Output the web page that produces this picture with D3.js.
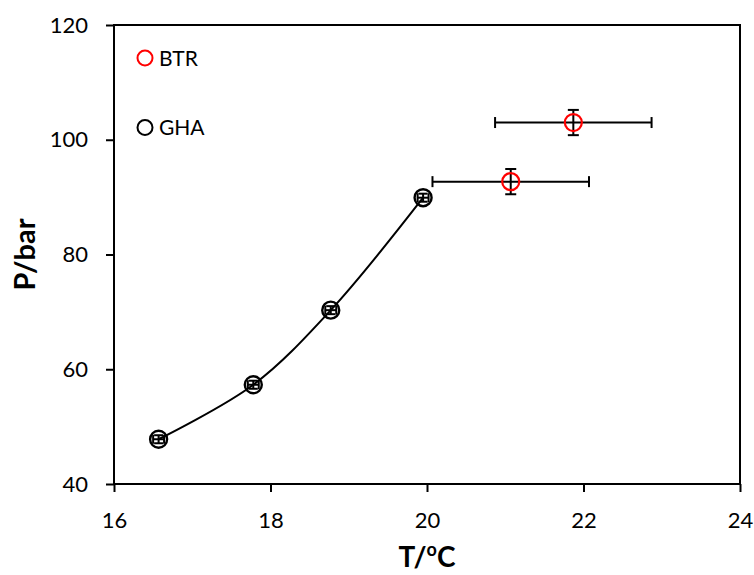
<!DOCTYPE html>
<html>
<head>
<meta charset="utf-8">
<script src="https://cdn.jsdelivr.net/npm/d3@7/dist/d3.min.js"></script>
<style>
  html, body { margin: 0; padding: 0; background: #fff; }
  svg { display: block; }
  text { font-family: Lato, "Open Sans", sans-serif; fill: #000; }
</style>
</head>
<body>
<svg id="chart" width="754" height="575"></svg>
<script>
// ---- data ----
const xTicks = [16, 18, 20, 22, 24];
const yTicks = [40, 60, 80, 100, 120];
const ghaT = [16.57, 17.78, 18.77, 19.95];
const ghaP = [47.8, 57.3, 70.3, 89.9];
const ghaTErr = [0.07, 0.07, 0.07, 0.07];
const ghaPErr = [0.7, 0.7, 0.7, 0.7];
const btrT = [21.07, 21.87];
const btrP = [92.7, 103.0];
const btrTErr = [1.0, 1.0];
const btrPErr = [2.2, 2.2];
const legendNames = ["BTR", "GHA"];
const legendColors = ["#ff0000", "#000000"];

// ---- layout ----
const svg = d3.select("#chart");
const L = 114, R = 740, T = 25, B = 484;
const x = d3.scaleLinear().domain([16, 24]).range([L, R]);
const y = d3.scaleLinear().domain([40, 120]).range([B, T]);

// frame
svg.append("rect").attr("x", L).attr("y", T).attr("width", R - L).attr("height", B - T)
  .attr("fill", "none").attr("stroke", "#000").attr("stroke-width", 2);

// axes
const xAxis = svg.append("g").attr("transform", `translate(0,${B})`)
  .call(d3.axisBottom(x).tickValues(xTicks).tickSize(8).tickPadding(20).tickFormat(d3.format("d")));
const yAxis = svg.append("g").attr("transform", `translate(${L},0)`)
  .call(d3.axisLeft(y).tickValues(yTicks).tickSize(8).tickPadding(18).tickFormat(d3.format("d")));
[xAxis, yAxis].forEach(g => {
  g.select(".domain").remove();
  g.selectAll(".tick line").attr("stroke", "#000").attr("stroke-width", 2);
  g.selectAll(".tick text").style("font-family", "Lato, sans-serif").style("font-size", "22px").attr("fill", "#000");
});
xAxis.selectAll(".tick text").attr("dy", "0.71em");

// axis titles
const xt = svg.append("text").attr("x", (L + R) / 2).attr("y", 567)
  .attr("text-anchor", "middle").style("font-size", "28px").style("font-weight", "bold");
xt.append("tspan").text("T/");
xt.append("tspan").text("o").style("font-size", "18px").attr("dy", "-11");
xt.append("tspan").text("C").attr("dy", "11");

svg.append("text").attr("transform", `translate(35,${(T + B) / 2}) rotate(-90)`)
  .attr("text-anchor", "middle").style("font-size", "29px").style("font-weight", "bold").text("P/bar");

// GHA curve
const gha = ghaT.map((t, i) => ({ t, p: ghaP[i], te: ghaTErr[i], pe: ghaPErr[i] }));
const btr = btrT.map((t, i) => ({ t, p: btrP[i], te: btrTErr[i], pe: btrPErr[i] }));

svg.append("path").datum(gha)
  .attr("d", d3.line().x(d => x(d.t)).y(d => y(d.p)).curve(d3.curveCatmullRom.alpha(0.5)))
  .attr("fill", "none").attr("stroke", "#000").attr("stroke-width", 2);

// error bars
function errorBars(data, cap) {
  const g = svg.append("g").attr("stroke", "#000").attr("stroke-width", 2);
  data.forEach(d => {
    const cx = x(d.t), cy = y(d.p);
    const x0 = x(d.t - d.te), x1 = x(d.t + d.te);
    const y0 = y(d.p - d.pe), y1 = y(d.p + d.pe);
    g.append("line").attr("x1", x0).attr("x2", x1).attr("y1", cy).attr("y2", cy);
    g.append("line").attr("x1", x0).attr("x2", x0).attr("y1", cy - cap).attr("y2", cy + cap);
    g.append("line").attr("x1", x1).attr("x2", x1).attr("y1", cy - cap).attr("y2", cy + cap);
    g.append("line").attr("x1", cx).attr("x2", cx).attr("y1", y0).attr("y2", y1);
    g.append("line").attr("x1", cx - cap).attr("x2", cx + cap).attr("y1", y0).attr("y2", y0);
    g.append("line").attr("x1", cx - cap).attr("x2", cx + cap).attr("y1", y1).attr("y2", y1);
  });
}
errorBars(gha, 4.5);
errorBars(btr, 5.5);

// markers
svg.append("g").selectAll("circle").data(gha).join("circle")
  .attr("cx", d => x(d.t)).attr("cy", d => y(d.p)).attr("r", 8.5)
  .attr("fill", "none").attr("stroke", "#000").attr("stroke-width", 2.4);
svg.append("g").selectAll("circle").data(btr).join("circle")
  .attr("cx", d => x(d.t)).attr("cy", d => y(d.p)).attr("r", 8.5)
  .attr("fill", "none").attr("stroke", "#ff0000").attr("stroke-width", 2.2);

// legend
const lg = svg.append("g");
legendNames.forEach((n, i) => {
  const cy = 58 + i * 69.5;
  lg.append("circle").attr("cx", 145).attr("cy", cy).attr("r", 7.5)
    .attr("fill", "none").attr("stroke", legendColors[i]).attr("stroke-width", 2);
  lg.append("text").attr("x", 159).attr("y", cy).attr("dy", "0.36em")
    .style("font-size", "21px").text(n);
});
</script>
</body>
</html>
